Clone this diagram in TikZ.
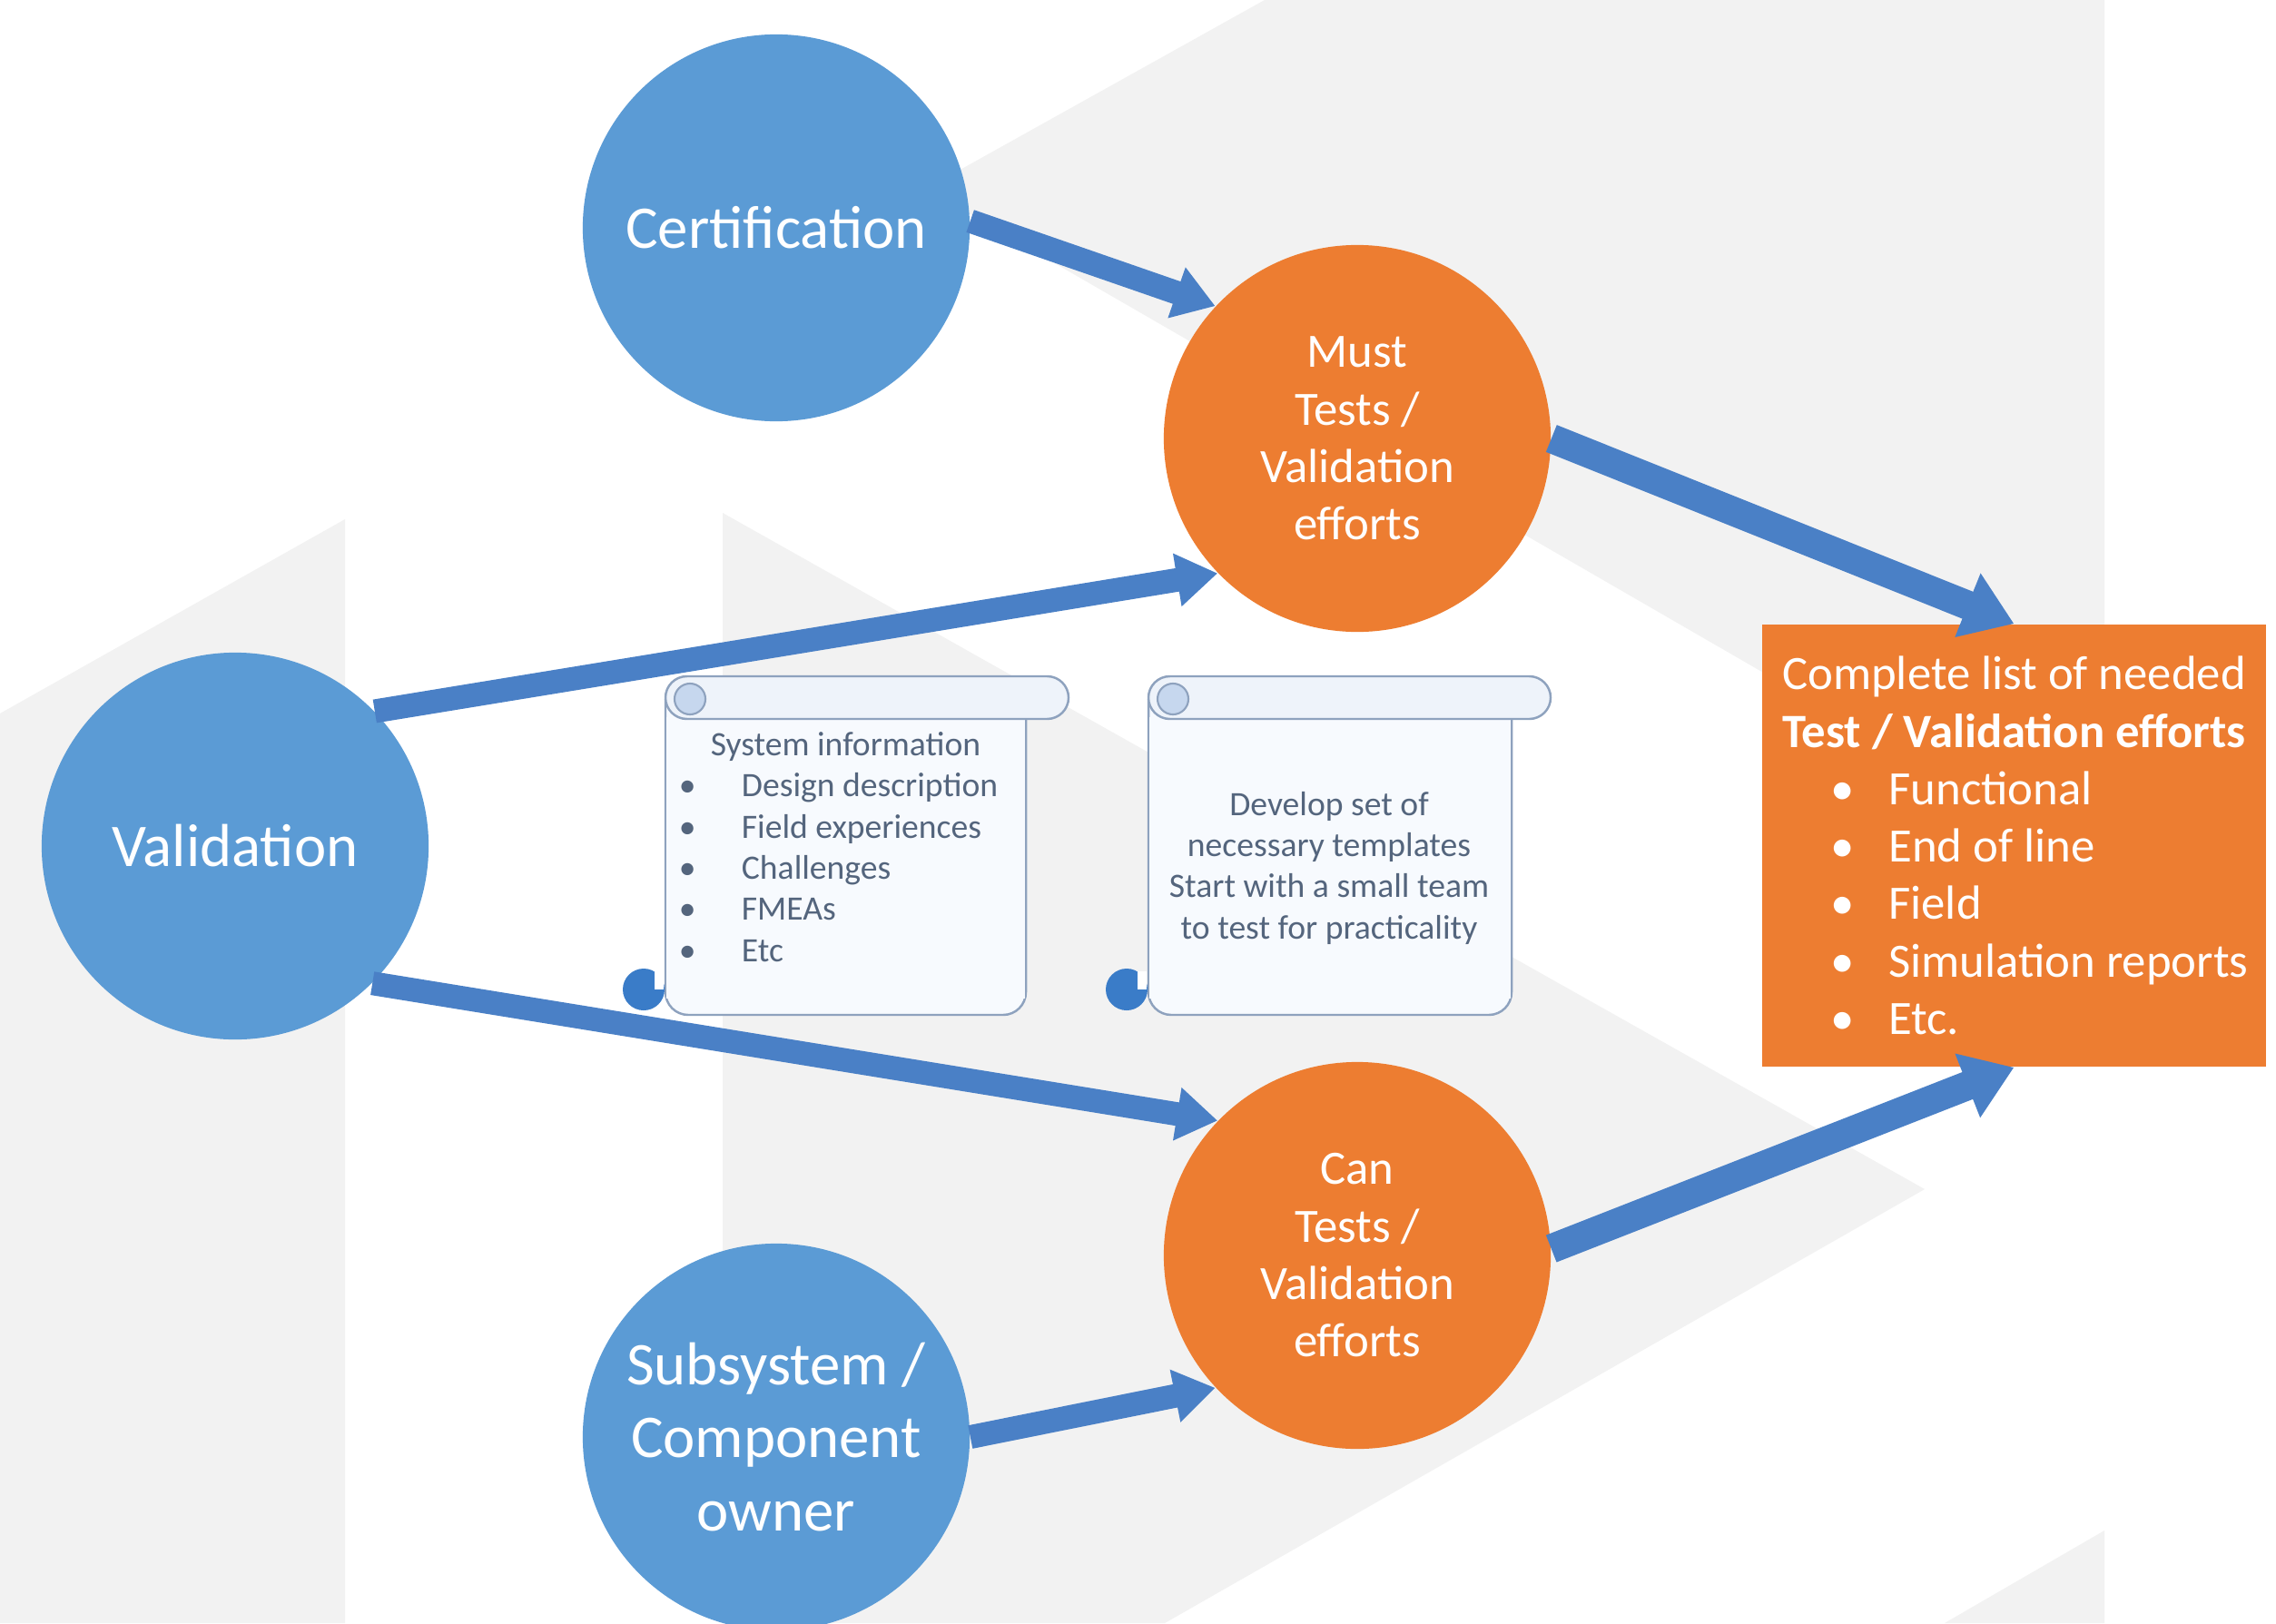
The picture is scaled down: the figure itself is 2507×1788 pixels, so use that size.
\documentclass[tikz,border=0pt]{standalone}
\usepackage{fontspec}
\setmainfont{Carlito}
\usetikzlibrary{arrows.meta}
\definecolor{bggray}{HTML}{F2F2F2}
\definecolor{cblue}{HTML}{5B9BD5}
\definecolor{corange}{HTML}{ED7D31}
\definecolor{ablue}{HTML}{4A80C6}
\definecolor{scrollline}{HTML}{8EA2BE}
\definecolor{scrollfill}{HTML}{F7FAFE}
\definecolor{rollfill}{HTML}{EEF3FA}
\definecolor{scrolltext}{HTML}{54657D}
\definecolor{curlblue}{HTML}{3A7CC8}
\definecolor{curllight}{HTML}{C6D7EE}
\newcommand\bitem[1]{\makebox[4.08cm][l]{\makebox[0.66cm][l]{\hspace{0.02cm}\textbullet}#1}}
\newcommand\sitem[1]{\hspace*{0.15cm}\makebox[0.69cm][l]{\textbullet}#1}
\newcommand\drawscroll[3]{%
  \draw[scrollbody, rounded corners=0.25cm] (#1,770) -- (#1,1118) -- (#2,1118) -- (#2,770);
  \fill[scrollfill] ({#1+1},790) rectangle ({#2-1},1100);
  \draw[scrollbody, fill=rollfill, rounded corners=0.235cm] (#1,745) rectangle (#3,792);
  \draw[draw=scrollline, fill=curllight, line width=0.6pt] ({#1+27},770) circle[radius=0.17cm];
  \fill[curlblue] ({#1-24},1090) circle[radius=0.23cm];
  \fill[white] ({#1-12},1070) rectangle ({#1-2},1090);
}
\begin{document}
\begin{tikzpicture}[x=0.01cm, y=-0.01cm,
  bluecirc/.style={circle, fill=cblue, minimum size=4.26cm, inner sep=0pt, text=white, align=center, font=\fontsize{19}{23}\selectfont},
  orangecirc/.style={circle, fill=corange, minimum size=4.26cm, inner sep=0pt, text=white, align=center, font=\fontsize{15}{18}\selectfont},
  listbox/.style={rectangle, fill=corange, minimum width=5.55cm, minimum height=4.87cm, inner sep=0pt, text=white, align=center, font=\fontsize{15}{18}\selectfont},
  flow/.style={draw=ablue, line width=0.26cm, -{Triangle[length=0.45cm,width=0.56cm]}},
  bigflow/.style={draw=ablue, line width=0.32cm, -{Triangle[length=0.55cm,width=0.72cm]}},
  bgshape/.style={fill=bggray},
  scrollbody/.style={fill=scrollfill, draw=scrollline, line width=0.7pt},
  scrolltxt/.style={text=scrolltext, font=\fontsize{10.7}{12.9}\selectfont, inner sep=0pt},
]
\useasboundingbox (0,0) rectangle (2507,1788);
\clip (0,0) rectangle (2507,1788);
\fill[white] (0,0) rectangle (2507,1788);
% background shapes
\fill[bgshape] (0,786) -- (380,572) -- (380,1788) -- (0,1788) -- cycle;
\fill[bgshape] (796,565) -- (2120,1310) -- (1283,1788) -- (796,1788) -- cycle;
\fill[bgshape] (1393,0) -- (2318,0) -- (2318,958) -- (1020,208) -- cycle;
\fill[bgshape] (2318,1686) -- (2318,1788) -- (2142,1788) -- cycle;
% nodes
\node[bluecirc] (cert) at (855,251) {Certification};
\node[bluecirc] (val) at (259,932) {Validation};
\node[bluecirc] (sub) at (855,1583) {Subsystem /\\Component\\owner};
\node[orangecirc] (must) at (1495,483) {Must\\Tests /\\Validation\\efforts};
\node[orangecirc] (can) at (1495,1383) {Can\\Tests /\\Validation\\efforts};
\node[listbox] (list) at (2218.5,931.5) {Complete list of needed\\ \textbf{Test / Validation efforts}\\ \bitem{Functional}\\ \bitem{End of line}\\ \bitem{Field}\\ \bitem{Simulation reports}\\ \bitem{Etc.}};
% connectors
\draw[flow] (cert.2) -- (must.137);
\draw[flow] (val.44) -- (must.224);
\draw[flow] (val.315) -- (can.136);
\draw[flow] (sub.0) -- (can.223);
\draw[bigflow] (must.0) -- (list.north);
\draw[bigflow] (can.2) -- (list.south);
% scrolls
\drawscroll{733}{1130}{1177}
\drawscroll{1265}{1665}{1708}
\node[scrolltxt, align=left] (s1txt) at (931.5,933) {\makebox[3.97cm]{System information}\\ \sitem{Design description}\\ \sitem{Field experiences}\\ \sitem{Challenges}\\ \sitem{FMEAs}\\ \sitem{Etc}};
\node[scrolltxt, align=center] (s2txt) at (1464,956) {Develop set of\\ necessary templates\\ Start with a small team\\ to test for practicality};
\end{tikzpicture}
\end{document}
